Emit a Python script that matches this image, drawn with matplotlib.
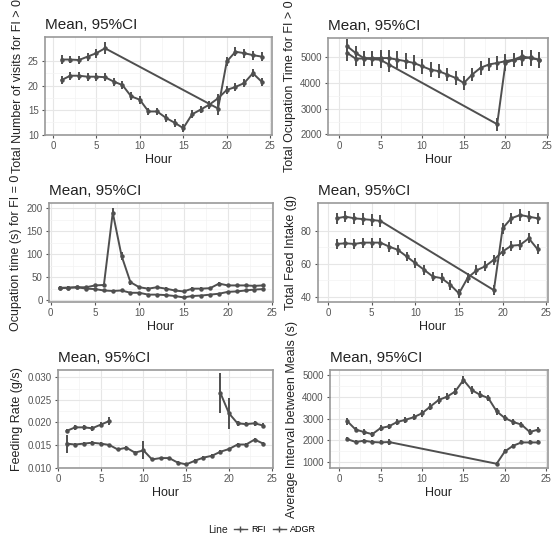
import numpy as np
import matplotlib
matplotlib.use("Agg")
import matplotlib.pyplot as plt
from matplotlib.lines import Line2D

plt.rcParams['font.family'] = ['Liberation Sans', 'DejaVu Sans']

# ---------------- data ----------------
hours = list(range(1, 25))
gap_hours = [1, 2, 3, 4, 5, 6, 19, 20, 21, 22, 23, 24]

# Panel 1: Total number of visits for FI > 0
visits_rfi = [25.3, 25.3, 25.2, 25.9, 26.6, 27.6, 15.3, 24.9, 26.9, 26.6, 26.2, 25.9]
visits_rfi_ci = [0.9, 0.8, 0.8, 0.8, 0.9, 1.2, 1.4, 1.0, 0.9, 0.9, 0.9, 0.9]
visits_adgr = [21.1, 22.0, 22.0, 21.8, 21.8, 21.7, 20.8, 20.1, 17.8, 17.1, 14.7, 14.7,
               13.4, 12.4, 11.3, 14.1, 15.1, 16.1, 17.4, 19.1, 19.7, 20.5, 22.5, 20.8]
visits_adgr_ci = [0.8] * 24

# Panel 2: Total occupation time for FI > 0
occ_rfi = [5170, 4950, 4950, 4930, 4900, 4720, 2400, 4780, 4900, 4950, 5000, 4900]
occ_rfi_ci = [300, 280, 280, 280, 300, 300, 250, 300, 280, 280, 300, 300]
occ_adgr = [5430, 5170, 4970, 4970, 4970, 4970, 4910, 4850, 4780, 4650, 4520, 4460,
            4330, 4200, 4000, 4330, 4590, 4720, 4780, 4850, 4910, 5040, 4970, 4910]
occ_adgr_ci = [300, 280, 260, 260, 320, 330, 320, 320, 300, 300, 280, 280,
               270, 260, 260, 250, 260, 260, 260, 260, 260, 260, 300, 300]

# Panel 3: Occupation time (s) for FI = 0
occ0_rfi = [26, 27, 28, 28, 32, 33, 190, 96, 39, 28, 25, 28,
            25, 21, 19, 25, 25, 26, 36, 32, 32, 32, 31, 32]
occ0_rfi_ci = [4, 3, 3, 3, 3, 3, 10, 8, 5, 3, 3, 3, 3, 3, 3, 3, 3, 3, 3, 3, 3, 3, 3, 3]
occ0_adgr = [27, 27, 28, 25, 24, 21, 20, 21, 16, 16, 12, 12,
             11, 9, 6, 9, 10, 12, 14, 18, 19, 21, 23, 24]
occ0_adgr_ci = [2] * 24

# Panel 4: Total feed intake (g)
feed_rfi = [87.7, 88.7, 87.7, 87.2, 86.7, 86.1, 44.0, 81.6, 87.7, 89.7, 88.7, 87.7]
feed_rfi_ci = [3.5, 3.5, 3.5, 3.5, 3.5, 3.5, 3.0, 3.5, 3.5, 3.5, 3.5, 3.5]
feed_adgr = [72.1, 72.5, 72.1, 72.9, 72.9, 72.9, 70.5, 68.5, 64.5, 60.4, 56.4, 52.3,
             51.3, 47.3, 42.0, 51.5, 56.0, 58.5, 62.5, 67.5, 71.0, 71.5, 75.5, 68.9]
feed_adgr_ci = [3.0] * 24

# Panel 5: Feeding rate (g/s)  (RFI missing for hours 7-18)
rate_rfi = [0.0181, 0.0189, 0.0189, 0.0187, 0.0195, 0.0203, None, None, None, None, None, None,
            None, None, None, None, None, None, 0.0265, 0.0220, 0.0198, 0.0196, 0.0198, 0.0193]
rate_rfi_ci = [0.0005, 0.0005, 0.0005, 0.0005, 0.0006, 0.0008, None, None, None, None, None, None,
               None, None, None, None, None, None, 0.0044, 0.0035, 0.0005, 0.0005, 0.0006, 0.0005]
rate_adgr = [0.0153, 0.0151, 0.0153, 0.0155, 0.0153, 0.0150, 0.0140, 0.0144, 0.0133, 0.0138,
             0.0118, 0.0121, 0.0121, 0.0111, 0.0107, 0.0115, 0.0122, 0.0126, 0.0135, 0.0141,
             0.0151, 0.0151, 0.0162, 0.0153]
rate_adgr_ci = [0.0020, 0.0003, 0.0003, 0.0003, 0.0003, 0.0003, 0.0003, 0.0003, 0.0003, 0.0020,
                0.0003, 0.0003, 0.0003, 0.0003, 0.0003, 0.0003, 0.0003, 0.0003, 0.0003, 0.0003,
                0.0003, 0.0003, 0.0004, 0.0003]

# Panel 6: Average interval between meals (s)
interval_rfi = [2050, 1920, 1980, 1920, 1900, 1920, 920, 1490, 1750, 1900, 1900, 1900]
interval_rfi_ci = [100, 90, 90, 90, 90, 120, 100, 90, 90, 90, 90, 90]
interval_adgr = [2870, 2490, 2380, 2280, 2560, 2640, 2840, 2940, 3060, 3240, 3550, 3850,
                 4000, 4240, 4770, 4310, 4090, 3940, 3330, 3020, 2840, 2720, 2380, 2490]
interval_adgr_ci = [150, 120, 120, 120, 120, 130, 130, 140, 140, 150, 160, 170,
                    170, 180, 200, 170, 160, 150, 150, 130, 120, 120, 120, 130]

ylabels = ["Total Number of visits for FI > 0", "Total Ocupation Time for FI > 0",
           "Ocupation time (s) for FI = 0", "Total Feed Intake (g)",
           "Feeding Rate (g/s)", "Average Interval between Meals (s)"]
title_text = "Mean, 95%CI"
xlabel_text = "Hour"
legend_labels = ["RFI", "ADGR"]
legend_title = "Line"

# ---------------- layout ----------------
W, H = 553, 543
fig = plt.figure(figsize=(W / 100, H / 100), dpi=100)

def rect(l, r, t, b):
    return [l / W, 1 - b / H, (r - l) / W, (b - t) / H]

panels = [
    dict(r=rect(45, 272, 37, 135), xl=(-0.9, 25.2), yl=(9.9, 29.9), yt=[10, 15, 20, 25], fmt="{:.0f}",
         a=(gap_hours, visits_rfi, visits_rfi_ci), b=(hours, visits_adgr, visits_adgr_ci)),
    dict(r=rect(328, 548, 38, 135), xl=(-1.3, 25.1), yl=(1980, 5750), yt=[2000, 3000, 4000, 5000], fmt="{:.0f}",
         a=(gap_hours, occ_rfi, occ_rfi_ci), b=(hours, occ_adgr, occ_adgr_ci)),
    dict(r=rect(49, 273, 203, 302), xl=(-0.2, 25.1), yl=(-4, 211), yt=[0, 50, 100, 150, 200], fmt="{:.0f}",
         a=(hours, occ0_rfi, occ0_rfi_ci), b=(hours, occ0_adgr, occ0_adgr_ci)),
    dict(r=rect(318, 548, 203, 302), xl=(-1.15, 25.2), yl=(36.8, 97), yt=[40, 60, 80], fmt="{:.0f}",
         a=(gap_hours, feed_rfi, feed_rfi_ci), b=(hours, feed_adgr, feed_adgr_ci)),
    dict(r=rect(58, 273, 370, 468), xl=(0, 25.15), yl=(0.0099, 0.0316),
         yt=[0.010, 0.015, 0.020, 0.025, 0.030], fmt="{:.3f}",
         a=(hours, rate_rfi, rate_rfi_ci), b=(hours, rate_adgr, rate_adgr_ci)),
    dict(r=rect(330, 548, 370, 468), xl=(-1.1, 25.2), yl=(725, 5230), yt=[1000, 2000, 3000, 4000, 5000],
         fmt="{:.0f}",
         a=(gap_hours, interval_rfi, interval_rfi_ci), b=(hours, interval_adgr, interval_adgr_ci)),
]

line_col = "#4f4f4f"
grid_major = "#e6e6e6"
grid_minor = "#f3f3f3"
tick_col = "#555555"

def to_arr(v):
    return np.array([np.nan if x is None else x for x in v], dtype=float)

for i, p in enumerate(panels):
    ax = fig.add_axes(p["r"])
    for key in ("a", "b"):
        xs, ys, ci = p[key]
        xs = np.array(xs, dtype=float)
        ys = to_arr(ys)
        ci = to_arr(ci)
        ax.plot(xs, ys, color=line_col, lw=1.4, zorder=3)
        ax.errorbar(xs, ys, yerr=ci, fmt='none', ecolor=line_col, elinewidth=1.4, capsize=0, zorder=3)
        ax.plot(xs, ys, 'o', color=line_col, ms=2.2, zorder=4)
    ax.set_xlim(*p["xl"])
    ax.set_ylim(*p["yl"])
    ax.set_xticks([0, 5, 10, 15, 20, 25])
    ax.set_xticks([2.5, 7.5, 12.5, 17.5, 22.5], minor=True)
    yt = p["yt"]
    ax.set_yticks(yt)
    ax.set_yticklabels([p["fmt"].format(v) for v in yt])
    ax.set_yticks([(yt[k] + yt[k + 1]) / 2 for k in range(len(yt) - 1)], minor=True)
    ax.grid(True, which='major', color=grid_major, lw=0.8, zorder=0)
    ax.grid(True, which='minor', color=grid_minor, lw=0.5, zorder=0)
    ax.set_axisbelow(True)
    ax.tick_params(axis='both', which='major', length=2.5, width=0.8, color=tick_col,
                   labelsize=7, labelcolor=tick_col, pad=2)
    ax.tick_params(axis='both', which='minor', length=0)
    for s in ax.spines.values():
        s.set_color("#999999")
        s.set_linewidth(1.2)
    ax.set_title(title_text, loc='left', fontsize=11, pad=6, color="#222222")
    ax.set_xlabel(xlabel_text, fontsize=9, labelpad=2, color="#222222")
    ax.set_ylabel(ylabels[i], fontsize=9, labelpad=3, color="#222222")

# legend
handles = [Line2D([0], [0], color=line_col, lw=1.0, marker='+', ms=5, mew=1.0) for _ in legend_labels]
fig.text(208 / W, 1 - 530 / H, legend_title, fontsize=7.5, va='center', ha='left', color="#222222")
fig.legend(handles, legend_labels, loc='center left', bbox_to_anchor=(234 / W, 1 - 530 / H),
           ncol=2, frameon=False, fontsize=6.5, handlelength=1.4, handletextpad=0.5,
           columnspacing=0.8, borderpad=0, borderaxespad=0)

fig.savefig("out.png", dpi=100)
